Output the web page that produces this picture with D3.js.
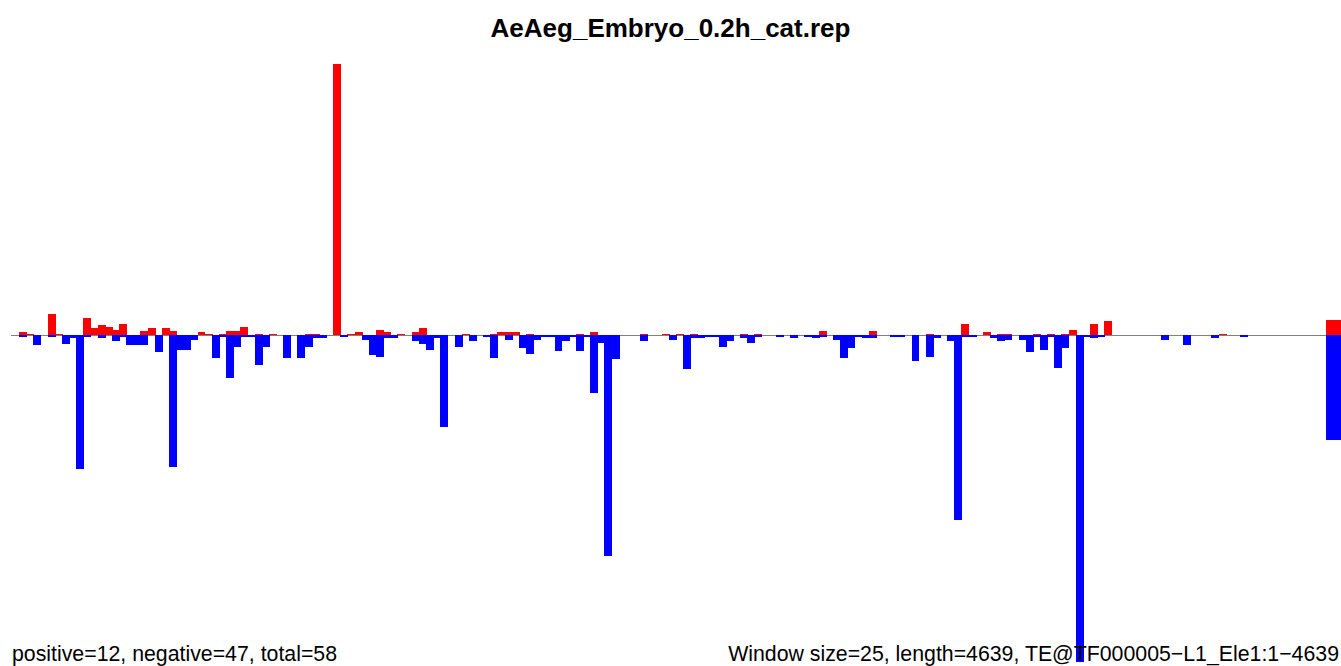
<!DOCTYPE html>
<html>
<head>
<meta charset="utf-8">
<script src="https://cdn.jsdelivr.net/npm/d3@7"></script>
<style>
html, body { margin: 0; padding: 0; background: #fff; }
svg { display: block; }
</style>
</head>
<body>
<script>
// ---- data (window index -> signal) ----
const title = "AeAeg_Embryo_0.2h_cat.rep";
const leftNote = "positive=12, negative=47, total=58";
const rightNote = "Window size=25, length=4639, TE@TF000005\u2212L1_Ele1:1\u22124639";
const binCount = 186;
// sparse readings: [bin index, value]
const positiveBins = [
  [0,3],[1,1],[4,21],[5,1],[9,17],[10,7],[11,10],[12,8],[13,5],[14,11],[17,4],[18,7],
  [20,7],[21,4],[25,3],[26,1],[28,1],[29,4],[30,4],[31,8],[33,1],[35,1],[40,1],[41,1],
  [44,271],[46,1],[47,3],[50,5],[51,3],[53,1],[55,3],[56,7],[62,1],[66,1],[67,3],[68,3],
  [69,3],[71,1],[78,1],[80,3],[87,1],[90,1],[92,1],[94,1],[101,1],[103,1],[112,4],[119,4],
  [127,1],[132,11],[135,3],[137,1],[138,1],[142,1],[144,1],[146,1],[147,5],[150,11],
  [152,14],[168,1],[183,15],[184,15]
];
const negativeBins = [
  [0,-2],[2,-10],[4,-2],[6,-9],[7,-3],[8,-134],[9,-2],[11,-3],[13,-6],[14,-2],[15,-10],
  [16,-10],[17,-10],[19,-17],[21,-132],[22,-15],[23,-15],[24,-5],[27,-23],[28,-2],[29,-43],
  [30,-12],[31,-2],[32,-2],[33,-30],[34,-12],[37,-23],[39,-23],[40,-12],[41,-3],[42,-3],
  [45,-2],[48,-5],[49,-20],[50,-22],[51,-3],[52,-3],[55,-6],[56,-9],[57,-15],[58,-3],
  [59,-92],[61,-12],[63,-6],[65,-2],[66,-23],[68,-5],[70,-13],[71,-19],[72,-5],[73,-2],
  [74,-2],[75,-16],[76,-6],[77,-2],[78,-16],[79,-2],[80,-58],[81,-8],[82,-221],[83,-24],
  [87,-6],[91,-5],[93,-34],[94,-3],[95,-3],[96,-2],[97,-2],[98,-12],[99,-6],[101,-3],
  [102,-8],[103,-2],[106,-2],[108,-3],[110,-2],[111,-3],[112,-2],[114,-5],[115,-23],
  [116,-13],[117,-2],[118,-3],[119,-3],[122,-2],[123,-2],[125,-26],[127,-22],[128,-3],
  [130,-6],[131,-185],[132,-2],[133,-2],[136,-3],[137,-6],[138,-5],[140,-5],[141,-17],
  [142,-2],[143,-15],[144,-2],[145,-33],[146,-13],[148,-327],[149,-2],[150,-3],[151,-2],
  [160,-5],[163,-10],[167,-3],[171,-2],[183,-105],[184,-105]
];
const yMin = -327, yMax = 271;

// ---- drawing ----
const W = 1341, H = 666;
const svg = d3.select("body").append("svg").attr("width", W).attr("height", H);

const x = d3.scaleLinear().domain([0, binCount]).range([19, 19 + binCount * 7.14]);
const y = d3.scaleLinear().domain([yMin, yMax]).range([662, 64]);
const barW = (x(1) - x(0)) * 1.12;

// baseline
svg.append("line")
  .attr("x1", 11).attr("x2", W)
  .attr("y1", y(0) + 0.5).attr("y2", y(0) + 0.5)
  .attr("stroke", "#808080").attr("stroke-width", 1.2);

svg.append("g").selectAll("rect").data(negativeBins).join("rect")
  .attr("x", d => x(d[0])).attr("width", barW)
  .attr("y", y(0)).attr("height", d => y(d[1]) - y(0))
  .attr("fill", "#0000FF").attr("shape-rendering", "crispEdges");

svg.append("g").selectAll("rect").data(positiveBins).join("rect")
  .attr("x", d => x(d[0])).attr("width", barW)
  .attr("y", d => y(d[1])).attr("height", d => y(0) - y(d[1]))
  .attr("fill", "#FF0000").attr("shape-rendering", "crispEdges");

// texts
svg.append("text").text(title)
  .attr("x", 670.5).attr("y", 37).attr("text-anchor", "middle")
  .attr("font-family", "Liberation Sans, Arial, sans-serif")
  .attr("font-weight", "bold").attr("font-size", 26);

svg.append("text").text(leftNote)
  .attr("x", 12).attr("y", 661)
  .attr("font-family", "Liberation Sans, Arial, sans-serif")
  .attr("font-size", 21.3);

svg.append("text").text(rightNote)
  .attr("x", 1339).attr("y", 661).attr("text-anchor", "end")
  .attr("font-family", "Liberation Sans, Arial, sans-serif")
  .attr("font-size", 21.3);
</script>
</body>
</html>
